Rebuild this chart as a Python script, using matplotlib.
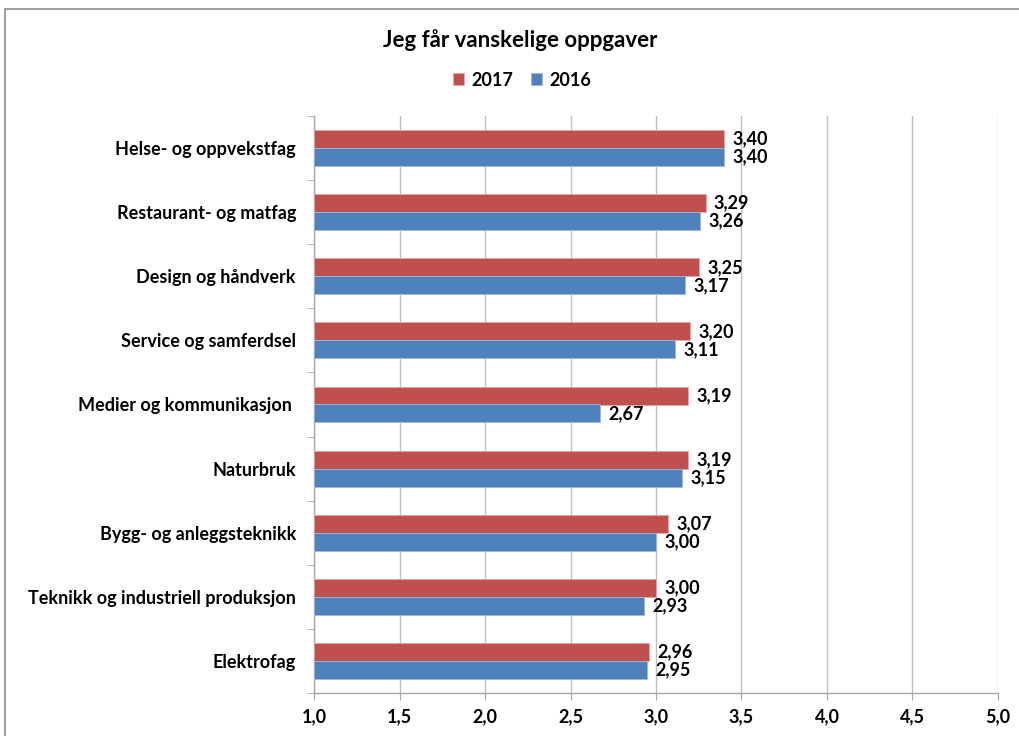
import matplotlib
matplotlib.use("Agg")
import matplotlib.pyplot as plt
from matplotlib.patches import Rectangle
import numpy as np

categories = [
    "Helse- og oppvekstfag",
    "Restaurant- og matfag",
    "Design og håndverk",
    "Service og samferdsel",
    "Medier og kommunikasjon ",
    "Naturbruk",
    "Bygg- og anleggsteknikk",
    "Teknikk og industriell produksjon",
    "Elektrofag",
]
values_2017 = [3.40, 3.29, 3.25, 3.20, 3.19, 3.19, 3.07, 3.00, 2.96]
values_2016 = [3.40, 3.26, 3.17, 3.11, 2.67, 3.15, 3.00, 2.93, 2.95]
x_ticks = [1.0, 1.5, 2.0, 2.5, 3.0, 3.5, 4.0, 4.5, 5.0]

RED = "#C0504D"
BLUE = "#4F81BD"
GRID = "#BFBFBF"
FS = 13

plt.rcParams["font.family"] = ["Lato", "DejaVu Sans"]
plt.rcParams["font.weight"] = "bold"

fig = plt.figure(figsize=(10.19, 7.36), dpi=100)
W, H = 1019, 736
ax = fig.add_axes([314 / W, 1 - 693 / H, (998 - 314) / W, (693 - 116) / H])

# chart frame
fig.patches.append(Rectangle((5 / W, -0.1), 1.2, 1 - 9 / H + 0.1, transform=fig.transFigure,
                             fill=False, edgecolor="#8C8C8C", linewidth=1.2, zorder=0))

y = np.arange(len(categories))
h = 0.28
b17 = ax.barh(y - h / 2, np.array(values_2017) - 1.0, left=1.0, height=h, color=RED,
              edgecolor="#E6A6A4", linewidth=0.6, label="2017", zorder=3)
b16 = ax.barh(y + h / 2, np.array(values_2016) - 1.0, left=1.0, height=h, color=BLUE,
              edgecolor="#9DB9DE", linewidth=0.6, label="2016", zorder=3)

for yi, v in zip(y - h / 2, values_2017):
    ax.annotate(f"{v:.2f}".replace(".", ","), (v, yi), xytext=(6, 0), textcoords="offset points",
                va="center", ha="left", fontsize=FS, fontweight="bold")
for yi, v in zip(y + h / 2, values_2016):
    ax.annotate(f"{v:.2f}".replace(".", ","), (v, yi), xytext=(6, 0), textcoords="offset points",
                va="center", ha="left", fontsize=FS, fontweight="bold")

ax.set_xlim(1.0, 5.0)
ax.set_ylim(len(categories) - 0.5, -0.5)
ax.set_xticks(x_ticks)
ax.set_xticklabels([f"{t:.1f}".replace(".", ",") for t in x_ticks], fontsize=FS, fontweight="bold")
ax.set_yticks(y)
ax.set_yticklabels(categories, fontsize=FS, fontweight="bold")
ax.tick_params(axis="y", length=0, pad=13)
ax.set_yticks(np.arange(len(categories) + 1) - 0.5, minor=True)
ax.tick_params(axis="y", which="minor", length=5, color="#A6A6A6", direction="out")
ax.tick_params(axis="x", length=5, color="#A6A6A6", direction="out", pad=6)

ax.grid(axis="x", color=GRID, linewidth=1, zorder=0)
ax.set_axisbelow(True)
for s in ["top", "right"]:
    ax.spines[s].set_visible(False)
for s in ["left", "bottom"]:
    ax.spines[s].set_color("#A6A6A6")
    ax.spines[s].set_linewidth(1)

fig.text(520 / W, 1 - 40 / H, "Jeg får vanskelige oppgaver", ha="center", va="center",
         fontsize=16, fontweight="bold")
fig.legend(handles=[b17, b16], labels=["2017", "2016"], loc="center", bbox_to_anchor=(522 / W, 1 - 80 / H),
           ncol=2, frameon=False, handlelength=0.6, handleheight=0.6,
           handletextpad=0.4, columnspacing=1.0, prop={"weight": "bold", "size": FS})

fig.savefig("out.png", dpi=100)
